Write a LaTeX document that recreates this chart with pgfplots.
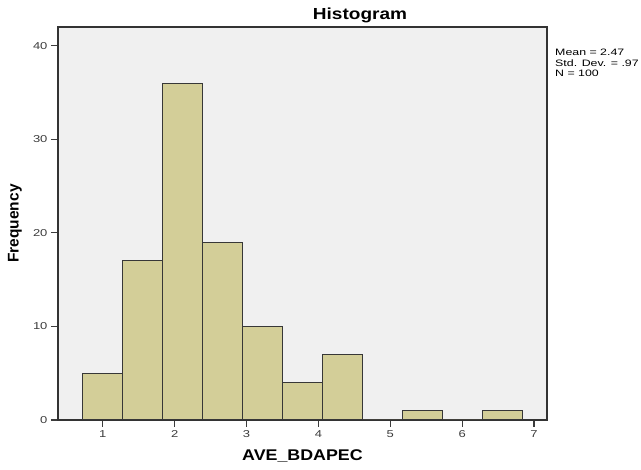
\documentclass[border=0pt]{standalone}
\usepackage{fontspec}
\setmainfont{Liberation Sans}
\usepackage{graphicx}
\usepackage{pgfplots}
\pgfplotsset{compat=1.18}
\definecolor{bggray}{RGB}{240,240,240}
\definecolor{barfill}{RGB}{211,206,152}
\definecolor{baredge}{RGB}{55,55,55}
\definecolor{ticktext}{RGB}{60,60,60}
\begin{document}
\begin{tikzpicture}[x=1pt,y=1pt]
\useasboundingbox (0,0) rectangle (641,470);
\begin{axis}[at={(58pt,50pt)}, anchor=south west, scale only axis,
  width=489pt, height=393pt,
  xmin=0.377, xmax=7.18, ymin=0, ymax=42,
  axis background/.style={fill=bggray},
  xtick={1,2,3,4,5,6,7}, ytick={0,10,20,30,40},
  tick align=outside, tick pos=left, major tick length=7pt,
  tick style={ticktext, line width=1.2pt},
  axis line style={draw=black!80, line width=1.2pt},
  ticklabel style={font=\fontsize{10}{12}\selectfont, text=ticktext},
  xticklabel={\scalebox{1.3}[1]{\pgfmathprintnumber{\tick}}},
  yticklabel={\scalebox{1.3}[1]{\pgfmathprintnumber{\tick}}},
  /pgf/number format/assume math mode=true,
  xlabel={\scalebox{1.15}[1]{\textbf{AVE\_BDAPEC}}},
  ylabel={\textbf{Frequency}},
  xlabel style={at={(axis description cs:0.5,-0.0916)}, anchor=center, font=\fontsize{15.5}{17}\selectfont},
  ylabel style={at={(axis description cs:-0.088,0.5)}, anchor=center, font=\fontsize{15.5}{17}\selectfont},
  clip=false,
]
\addplot[ybar interval, fill=barfill, draw=baredge, line width=1pt]
coordinates {(0.716,5) (1.273,17) (1.829,36) (2.386,19) (2.942,10) (3.499,4) (4.056,7) (4.612,0) (5.169,1) (5.725,0) (6.282,1) (6.838,0)};
\end{axis}
\node[font=\bfseries\fontsize{16}{18}\selectfont] at (360,455) {\scalebox{1.19}[1]{Histogram}};
\node[anchor=north west, inner sep=0pt, align=left, font=\fontsize{9.3}{10.5}\selectfont] at (555,421) {\scalebox{1.33}[1]{Mean = 2.47}\\\scalebox{1.33}[1]{Std. Dev. = .97}\\\scalebox{1.33}[1]{N = 100}};
\end{tikzpicture}
\end{document}
